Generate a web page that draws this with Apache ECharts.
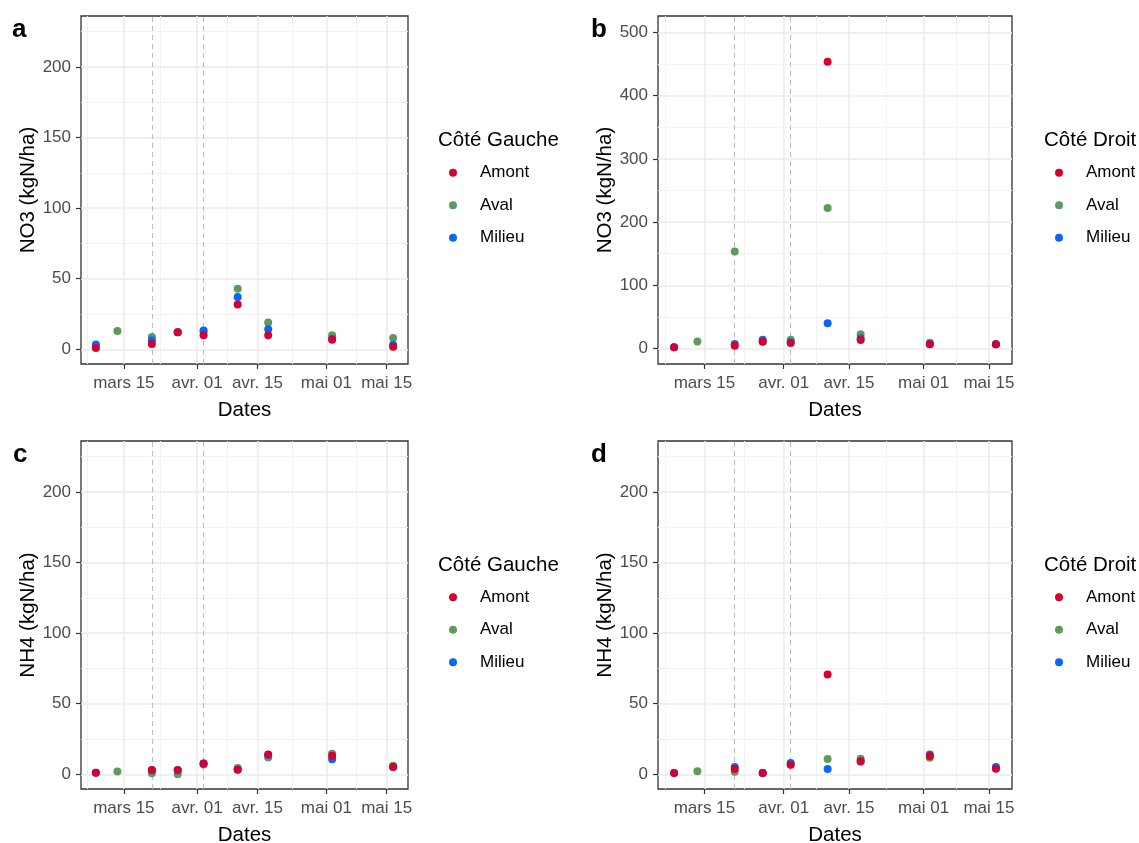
<!DOCTYPE html>
<html>
<head>
<meta charset="utf-8">
<script src="https://cdn.jsdelivr.net/npm/echarts@6/dist/echarts.min.js"></script>
<style>
html,body{margin:0;padding:0;background:#fff;}
#chart{width:1139px;height:843px;}
</style>
</head>
<body>
<div id="chart"></div>
<script>
// ---- data ----
const sampleDates = ['2021-03-08T12:00:00Z','2021-03-13T12:00:00Z','2021-03-21T12:00:00Z','2021-03-27T12:00:00Z','2021-04-02T12:00:00Z','2021-04-10T10:00:00Z','2021-04-17T12:00:00Z','2021-05-02T08:00:00Z','2021-05-16T12:00:00Z'];
const markerDates = ['2021-03-21T12:00:00Z','2021-04-02T12:00:00Z'];

const tickDates = ['2021-03-15T00:00:00Z','2021-04-01T00:00:00Z','2021-04-15T00:00:00Z','2021-05-01T00:00:00Z','2021-05-15T00:00:00Z'];
const tickLabels = ['mars 15','avr. 01','avr. 15','mai 01','mai 15'];
const minorDates = ['2021-03-06T12:00:00Z','2021-03-23T12:00:00Z','2021-04-08T00:00:00Z','2021-04-23T00:00:00Z','2021-05-08T00:00:00Z'];

const yTicksSmall = [0,50,100,150,200];
const yMinorSmall = [25,75,125,175,225];
const yTicksBig = [0,100,200,300,400,500];
const yMinorBig = [50,150,250,350,450];

// NO3 - Côté Gauche (a)
const no3GaucheAmont  = [1.0, null, 3.8, 12.0, 9.9, 31.8, 9.9, 6.8, 1.9];
const no3GaucheAval   = [null, 13.0, 8.7, 12.0, 12.5, 42.9, 18.9, 9.9, 8.0];
const no3GaucheMilieu = [3.4, null, 6.4, 12.0, 13.3, 37.0, 14.2, 7.5, 3.3];
// NO3 - Côté Droit (b)
const no3DroitAmont  = [2.1, null, 4.2, 10.8, 8.7, 453.7, 13.3, 6.6, 6.6];
const no3DroitAval   = [null, 11.0, 153.5, 11.0, 14.0, 222.4, 22.6, 9.2, 6.6];
const no3DroitMilieu = [2.1, null, 7.1, 13.7, 10.0, 40.0, 16.3, 7.0, 6.8];
// NH4 - Côté Gauche (c)
const nh4GaucheAmont  = [1.1, null, 3.0, 3.0, 7.7, 3.2, 14.0, 13.1, 5.1];
const nh4GaucheAval   = [null, 2.0, 0.7, 0.0, 7.0, 4.4, 11.9, 14.5, 6.0];
const nh4GaucheMilieu = [1.1, null, 2.8, 2.8, 7.6, 3.4, 13.6, 10.7, 5.2];
// NH4 - Côté Droit (d)
const nh4DroitAmont  = [1.0, null, 4.0, 1.0, 6.8, 70.6, 9.0, 12.9, 4.0];
const nh4DroitAval   = [null, 2.1, 1.9, 1.0, 7.0, 10.8, 11.1, 11.8, 4.5];
const nh4DroitMilieu = [1.0, null, 5.2, 1.0, 8.0, 3.8, 9.5, 14.1, 5.2];

const seriesNames = ['Amont','Aval','Milieu'];
const colors = {Amont:'#D50032', Aval:'#5E9A5E', Milieu:'#0A66F5'};

// ---- layout ----
const FONT = "'Liberation Sans', Arial, sans-serif";
const panels = [
  {letter:'a', yName:'NO3 (kgN/ha)', legendTitle:'Côté Gauche', grid:{left:81, top:16, width:327, height:348}, yMin:-10.4, yMax:236, ticks:yTicksSmall, minor:yMinorSmall,
   values:{Amont:no3GaucheAmont, Aval:no3GaucheAval, Milieu:no3GaucheMilieu}, letterPos:[12,17], legX:438, legY:0},
  {letter:'b', yName:'NO3 (kgN/ha)', legendTitle:'Côté Droit', grid:{left:658, top:16, width:354, height:348}, yMin:-24.5, yMax:526, ticks:yTicksBig, minor:yMinorBig,
   values:{Amont:no3DroitAmont, Aval:no3DroitAval, Milieu:no3DroitMilieu}, letterPos:[591,17], legX:1044, legY:0},
  {letter:'c', yName:'NH4 (kgN/ha)', legendTitle:'Côté Gauche', grid:{left:81, top:441, width:327, height:348}, yMin:-10.4, yMax:236, ticks:yTicksSmall, minor:yMinorSmall,
   values:{Amont:nh4GaucheAmont, Aval:nh4GaucheAval, Milieu:nh4GaucheMilieu}, letterPos:[13,442], legX:438, legY:424.5},
  {letter:'d', yName:'NH4 (kgN/ha)', legendTitle:'Côté Droit', grid:{left:658, top:441, width:354, height:348}, yMin:-10.4, yMax:236, ticks:yTicksSmall, minor:yMinorSmall,
   values:{Amont:nh4DroitAmont, Aval:nh4DroitAval, Milieu:nh4DroitMilieu}, letterPos:[591,442], legX:1044, legY:424.5}
];

const ts = s => Date.parse(s);
const sampleTs = sampleDates.map(ts);
const tickTs = tickDates.map(ts);
const span = sampleTs[sampleTs.length-1] - sampleTs[0];
const xMin = sampleTs[0] - 0.05*span;
const xMax = sampleTs[sampleTs.length-1] + 0.05*span;

const grids = [], xAxes = [], yAxes = [], series = [], titles = [], legends = [];

panels.forEach((p, i) => {
  grids.push(Object.assign({show:true, borderColor:'#333333', borderWidth:1.3, backgroundColor:'#fff', containLabel:false, outerBoundsMode:'none'}, p.grid));
  xAxes.push({
    type:'value', gridIndex:i, min:xMin, max:xMax,
    name:'Dates', nameLocation:'middle', nameGap:36,
    nameTextStyle:{fontFamily:FONT, fontSize:20.5, color:'#000'},
    axisLine:{show:false, onZero:false},
    axisTick:{show:true, length:5, lineStyle:{color:'#333333', width:1.2}, customValues:tickTs},
    axisLabel:{show:true, margin:11, fontFamily:FONT, fontSize:17, color:'#4D4D4D', customValues:tickTs,
      formatter: v => { const k = tickTs.indexOf(v); return k >= 0 ? tickLabels[k] : ''; }},
    splitLine:{show:false}
  });
  yAxes.push({
    type:'value', gridIndex:i, min:p.yMin, max:p.yMax,
    name:p.yName, nameLocation:'middle', nameRotate:90, nameGap:42,
    nameTextStyle:{fontFamily:FONT, fontSize:20.5, color:'#000'},
    axisLine:{show:false, onZero:false},
    axisTick:{show:true, length:5, lineStyle:{color:'#333333', width:1.2}, customValues:p.ticks},
    axisLabel:{show:true, margin:10, fontFamily:FONT, fontSize:17, color:'#4D4D4D', customValues:p.ticks},
    splitLine:{show:false}
  });

  // grid lines via the axes' scales
  const gl = [];
  p.minor.forEach(v => gl.push({yAxis:v, lineStyle:{color:'#F2F2F2', width:1, type:'solid'}}));
  minorDates.forEach(d => gl.push({xAxis:ts(d), lineStyle:{color:'#F2F2F2', width:1, type:'solid'}}));
  p.ticks.forEach(v => gl.push({yAxis:v, lineStyle:{color:'#EBEBEB', width:1.5, type:'solid'}}));
  tickTs.forEach(v => gl.push({xAxis:v, lineStyle:{color:'#EBEBEB', width:1.5, type:'solid'}}));
  series.push({
    type:'scatter', name:'_grid'+i, xAxisIndex:i, yAxisIndex:i, data:[], silent:true, z:1,
    markLine:{silent:true, z:1, symbol:['none','none'], label:{show:false}, animation:false, data:gl}
  });
  series.push({
    type:'scatter', name:'_marker'+i, xAxisIndex:i, yAxisIndex:i, data:[], silent:true, z:2,
    markLine:{silent:true, z:2, symbol:['none','none'], label:{show:false}, animation:false,
      data: markerDates.map(d => ({xAxis:ts(d), lineStyle:{color:'#BDBDBD', width:1.1, type:[5,4]}}))}
  });

  // points (drawn Aval, Milieu, Amont so Amont is on top)
  ['Aval','Milieu','Amont'].forEach(nm => {
    const vals = p.values[nm];
    const data = [];
    sampleTs.forEach((t, k) => { if (vals[k] != null) data.push([t, vals[k]]); });
    series.push({
      type:'scatter', name:nm, xAxisIndex:i, yAxisIndex:i, data:data, z:3,
      symbol:'circle', symbolSize:8, itemStyle:{color:colors[nm], opacity:1}, animation:false
    });
  });

  titles.push({text:p.letter, left:p.letterPos[0], top:p.letterPos[1], padding:0,
    textStyle:{fontFamily:FONT, fontSize:26, fontWeight:'bold', color:'#000'}});
  titles.push({text:p.legendTitle, left:p.legX, top:130 + p.legY, padding:0,
    textStyle:{fontFamily:FONT, fontSize:20.5, fontWeight:'normal', color:'#000'}});
  legends.push({
    data:seriesNames, orient:'vertical', left:p.legX + 11, top:162.7 + p.legY, padding:0,
    itemWidth:8, itemHeight:8, itemGap:12.5, icon:'circle', selectedMode:false,
    textStyle:{fontFamily:FONT, fontSize:17, color:'#000', lineHeight:20, padding:[0,0,0,18]}
  });
});

const chart = echarts.init(document.getElementById('chart'), null, {renderer:'canvas'});
chart.setOption({
  animation:false,
  backgroundColor:'#fff',
  title:titles,
  legend:legends,
  grid:grids,
  xAxis:xAxes,
  yAxis:yAxes,
  series:series
});
</script>
</body>
</html>
